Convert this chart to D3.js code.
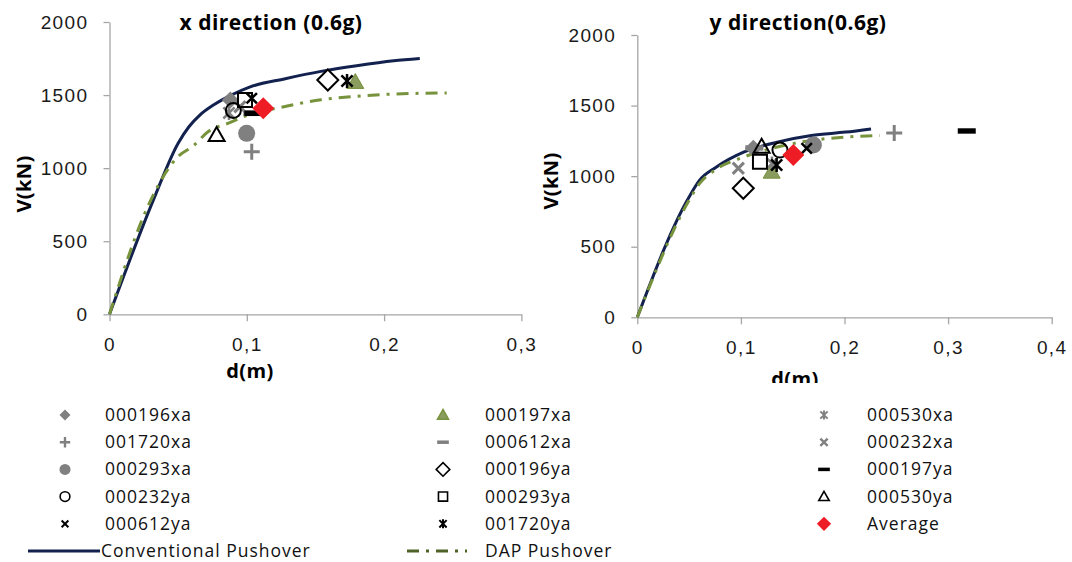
<!DOCTYPE html>
<html>
<head>
<meta charset="utf-8">
<script src="https://cdn.jsdelivr.net/npm/d3@7"></script>
<style>
	body { margin: 0; background: #fff; }
	svg { display: block; font-family: "Open Sans", sans-serif; }
	.axis path, .axis line { stroke: #a6a6a6; stroke-width: 1.3; }
	.axis text { font-size: 19px; fill: #1a1a1a; letter-spacing: 1.4px; }
	.title { font-size: 21px; font-weight: bold; letter-spacing: 0.5px; }
	.label { font-size: 20px; font-weight: bold; letter-spacing: 0.4px; }
	.legend text { font-size: 17.5px; fill: #111; letter-spacing: 1px; }
</style>
</head>
<body>
<script>
// records, in the order the legend lists them (row by row)
const records = ["000196xa", "000197xa", "000530xa", "001720xa", "000612xa", "000232xa", "000293xa",
	"000196ya", "000197ya", "000232ya", "000293ya", "000530ya", "000612ya", "001720ya", "Average"];

// x direction: displacement (m) and base shear (kN) per record
const xDirD = [0.088, 0.179, 0.087, 0.1036, 0.104, 0.095, 0.0999, 0.159, 0.1047, 0.0902, 0.0987, 0.078, 0.1036, 0.173, 0.112];
const xDirV = [1466, 1589, 1378, 1113, 1378, 1420, 1238, 1603, 1375, 1395, 1466, 1227, 1478, 1596, 1409];

// y direction
const yDirD = [0.112, 0.1297, 0.130, 0.248, 0.113, 0.0975, 0.170, 0.1023, 0.318, 0.1377, 0.1184, 0.120, 0.1635, 0.1345, 0.1506];
const yDirV = [1197, 1031, 1090, 1306, 1200, 1056, 1221, 914, 1320, 1185, 1102, 1209, 1197, 1079, 1150];

// pushover curves
const convXd = [0, 0.032, 0.05, 0.058, 0.066, 0.076, 0.089, 0.102, 0.128, 0.154, 0.180, 0.207, 0.226];
const convXv = [0, 783, 1171, 1285, 1365, 1434, 1502, 1555, 1612, 1662, 1701, 1735, 1751];
const dapXd = [0, 0.029, 0.05, 0.0605, 0.072, 0.0866, 0.1, 0.128, 0.154, 0.180, 0.2065, 0.2456];
const dapXv = [0, 760, 1080, 1148, 1251, 1308, 1360, 1422, 1468, 1491, 1507, 1514];
const convYd = [0, 0.05, 0.06, 0.0764, 0.1026, 0.135, 0.168, 0.201, 0.2256];
const convYv = [0, 853, 970, 1065, 1170, 1241, 1288, 1312, 1335];
const dapYd = [0, 0.05, 0.06, 0.0764, 0.1026, 0.135, 0.168, 0.201, 0.234];
const dapYv = [0, 829, 947, 1050, 1135, 1206, 1253, 1277, 1288];

const vTicks = [0, 500, 1000, 1500, 2000];
const xTicksX = [0, 0.1, 0.2, 0.3];
const xTicksY = [0, 0.1, 0.2, 0.3, 0.4];

const gray = "#808080";
const markers = {
	"000196xa": {shape: "diamond", size: 17, fill: gray},
	"000197xa": {shape: "triangle", size: 17, fill: "#8a9c5e", stroke: "#77933c", width: 1},
	"000530xa": {shape: "star", size: 14, stroke: gray, width: 2.5},
	"001720xa": {shape: "plus", size: 16, stroke: gray, width: 3},
	"000612xa": {shape: "dash", size: 18, fill: gray},
	"000232xa": {shape: "x", size: 14, stroke: gray, width: 3},
	"000293xa": {shape: "circle", size: 17, fill: gray},
	"000196ya": {shape: "diamond", size: 21, fill: "#fff", stroke: "#000", width: 2},
	"000197ya": {shape: "dash", size: 18, fill: "#000"},
	"000232ya": {shape: "circle", size: 15, fill: "none", stroke: "#000", width: 2},
	"000293ya": {shape: "square", size: 14, fill: "none", stroke: "#000", width: 2},
	"000530ya": {shape: "triangle", size: 16, fill: "none", stroke: "#000", width: 2},
	"000612ya": {shape: "x", size: 13, stroke: "#000", width: 2.5},
	"001720ya": {shape: "star", size: 14, stroke: "#000", width: 2.5},
	"Average": {shape: "diamond", size: 22, fill: "#ee1c24"}
};

function markerPath(shape, s) {
	let h = s / 2, p = d3.path();
	if (shape === "diamond") {
		p.moveTo(0, -h); p.lineTo(h, 0); p.lineTo(0, h); p.lineTo(-h, 0); p.closePath();
	} else if (shape === "triangle") {
		p.moveTo(0, -h); p.lineTo(h, h * 0.75); p.lineTo(-h, h * 0.75); p.closePath();
	} else if (shape === "square") {
		p.rect(-h, -h, s, s);
	} else if (shape === "circle") {
		p.arc(0, 0, h, 0, 2 * Math.PI);
	} else if (shape === "dash") {
		p.rect(-h, -s * 0.15, s, s * 0.3);
	} else {
		if (shape !== "x") { p.moveTo(0, -h); p.lineTo(0, h); }
		if (shape === "plus") { p.moveTo(-h, 0); p.lineTo(h, 0); }
		else { p.moveTo(-h * 0.8, -h * 0.8); p.lineTo(h * 0.8, h * 0.8); p.moveTo(-h * 0.8, h * 0.8); p.lineTo(h * 0.8, -h * 0.8); }
	}
	return p.toString();
}

function styleMarker(sel, m) {
	sel.attr("d", markerPath(m.shape, m.size))
		.attr("fill", m.fill || "none")
		.attr("stroke", m.stroke || "none")
		.attr("stroke-width", m.width || 0);
}

const locale = d3.formatLocale({decimal: ",", thousands: ".", grouping: [3], currency: ["", ""]});

const svg = d3.select("body").append("svg")
	.attr("width", 1072)
	.attr("height", 562);

svg.append("defs").append("clipPath")
	.attr("id", "cut")
	.append("rect")
		.attr("width", 1072)
		.attr("height", 383);

const panels = [
	{
		title: "x direction (0.6g)", left: 109.5, right: 521.4, bottom: 314.3, top: 22, xMax: 0.3, xTicks: xTicksX,
		d: xDirD, v: xDirV, conv: [convXd, convXv], dap: [dapXd, dapXv],
		titleX: 271, vLabel: [24, 184], dLabel: [250, 371]
	},
	{
		title: "y direction(0.6g)", left: 637.3, right: 1051.7, bottom: 317.3, top: 35, xMax: 0.4, xTicks: xTicksY,
		d: yDirD, v: yDirV, conv: [convYd, convYv], dap: [dapYd, dapYv],
		titleX: 798, vLabel: [551, 181], dLabel: [795, 379]
	}
];

panels.forEach(p => {
	let x = d3.scaleLinear().domain([0, p.xMax]).range([p.left, p.right]);
	let y = d3.scaleLinear().domain([0, 2000]).range([p.bottom, p.top]);
	let g = svg.append("g").attr("clip-path", "url(#cut)");

	g.append("g")
		.attr("class", "axis")
		.attr("transform", `translate(0, ${p.bottom})`)
		.call(d3.axisBottom(x).tickValues(p.xTicks).tickSize(7).tickSizeOuter(0).tickPadding(16)
			.tickFormat(d => d === 0 ? "0" : locale.format(".1f")(d)));

	g.append("g")
		.attr("class", "axis")
		.attr("transform", `translate(${p.left}, 0)`)
		.call(d3.axisLeft(y).tickValues(vTicks).tickSize(6).tickSizeOuter(0).tickPadding(15).tickFormat(d3.format("d")));

	let line = d3.line()
		.x(d => x(d[0]))
		.y(d => y(d[1]))
		.curve(d3.curveMonotoneX);

	g.append("path")
		.attr("d", line(d3.zip(p.conv[0], p.conv[1])))
		.attr("fill", "none")
		.attr("stroke", "#13214f")
		.attr("stroke-width", 3);

	g.append("path")
		.attr("d", line(d3.zip(p.dap[0], p.dap[1])))
		.attr("fill", "none")
		.attr("stroke", "#77933c")
		.attr("stroke-width", 3)
		.attr("stroke-dasharray", "12,7,3,7");

	records.forEach((r, i) => {
		g.append("path")
			.attr("transform", `translate(${x(p.d[i])}, ${y(p.v[i])})`)
			.call(styleMarker, markers[r]);
	});

	g.append("text")
		.attr("class", "title")
		.attr("x", p.titleX)
		.attr("y", 30)
		.attr("text-anchor", "middle")
		.text(p.title);

	g.append("text")
		.attr("class", "label")
		.attr("transform", `translate(${p.vLabel[0] + 7}, ${p.vLabel[1]}) rotate(-90)`)
		.attr("text-anchor", "middle")
		.text("V(kN)");

	g.append("text")
		.attr("class", "label")
		.attr("x", p.dLabel[0])
		.attr("y", p.dLabel[1] + 7)
		.attr("text-anchor", "middle")
		.text("d(m)");
});

// legend, three columns filled row by row
const colSym = [65, 443, 824];
const colText = [105, 485, 867];
const rowY = i => 415 + i * 27.2;

const legend = svg.append("g").attr("class", "legend");

records.forEach((r, i) => {
	let m = markers[r];
	let small = Object.assign({}, m, {size: m.size * 0.65, width: m.width ? Math.max(1.5, m.width * 0.8) : 0});
	legend.append("path")
		.attr("transform", `translate(${colSym[i % 3]}, ${rowY(Math.floor(i / 3))})`)
		.call(styleMarker, small);
	legend.append("text")
		.attr("x", colText[i % 3])
		.attr("y", rowY(Math.floor(i / 3)) + 6)
		.text(r);
});

legend.append("line")
	.attr("x1", 28).attr("x2", 100)
	.attr("y1", rowY(5)).attr("y2", rowY(5))
	.attr("stroke", "#13214f")
	.attr("stroke-width", 3);
legend.append("text")
	.attr("x", 101).attr("y", rowY(5) + 6)
	.text("Conventional Pushover");

legend.append("line")
	.attr("x1", 407).attr("x2", 467)
	.attr("y1", rowY(5)).attr("y2", rowY(5))
	.attr("stroke", "#4f6228")
	.attr("stroke-width", 3)
	.attr("stroke-dasharray", "12,7,3,7");
legend.append("text")
	.attr("x", 485).attr("y", rowY(5) + 6)
	.text("DAP Pushover");
</script>
</body>
</html>
